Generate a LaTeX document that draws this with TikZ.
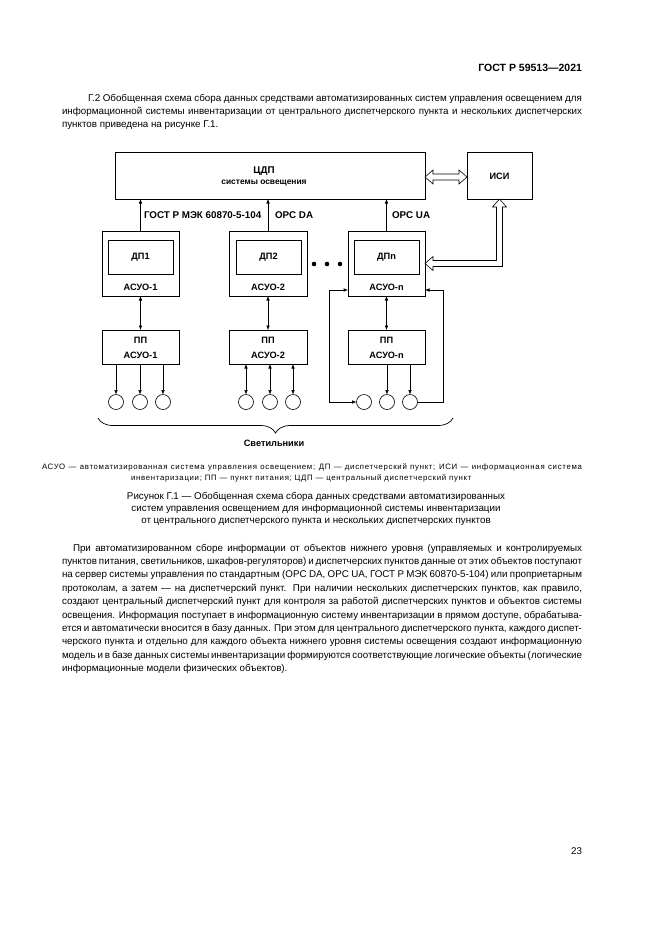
\documentclass[tikz,border=0pt]{standalone}
\usepackage{fontspec}
\setmainfont{Liberation Sans}
\usetikzlibrary{arrows.meta,calc,decorations.pathreplacing}
\begin{document}
\begin{tikzpicture}[x=1pt,y=-1pt,
  every node/.style={inner sep=0pt, outer sep=0pt},
  box/.style n args={2}{draw, line width=0.6pt, minimum width=#1, minimum height=#2},
  dtext/.style={font=\fontsize{9.2}{10}\selectfont\bfseries},
  dproto/.style={font=\fontsize{9.8}{11}\selectfont\bfseries, anchor=west},
  dbig/.style={font=\fontsize{9.8}{11}\selectfont\bfseries},
  dsmall/.style={font=\fontsize{8.4}{9}\selectfont\bfseries},
  body/.style={font=\fontsize{9.8}{12}\selectfont, anchor=base west},
  legend/.style={font=\fontsize{7.8}{9}\selectfont\addfontfeatures{LetterSpace=9}, anchor=base west},
  capt/.style={font=\fontsize{9.8}{12}\selectfont, anchor=base},
  arr/.style={line width=0.6pt, -{Latex[length=4.5pt,width=3.6pt]}},
  biarr/.style={line width=0.6pt, {Latex[length=4.5pt,width=3.6pt]}-{Latex[length=4.5pt,width=3.6pt]}},
  hollow/.style={draw, line width=0.6pt, fill=white, line join=miter},
  lamp/.style={circle, draw, line width=0.6pt, minimum size=15pt},
  dotn/.style={circle, fill=black, minimum size=4.6pt}
]
\useasboundingbox (0,0) rectangle (661,935);
\fill[white] (0,0) rectangle (661,935);

% header
\node[font=\fontsize{10.5}{12}\selectfont\bfseries, anchor=base east] (hdr) at (582,71.8) {ГОСТ Р 59513—2021};

% intro paragraph
\node[body] (i1) at (88,101.5) {\makebox[494pt][s]{Г.2 Обобщенная схема сбора данных средствами автоматизированных систем управления освещением для}};
\node[body] (i2) at (62,114.6) {\makebox[520pt][s]{информационной системы инвентаризации от центрального диспетчерского пункта и нескольких диспетчерских}};
\node[body] (i3) at (62,127.7) {пунктов приведена на рисунке Г.1.};

% boxes
\node[box={310}{47}] (cdp) at (270,175.5) {};
\node[dbig] (cdpt) at (264,171.5) {ЦДП};
\node[dsmall] (cdps) at (264,183.5) {системы освещения};
\node[box={65}{47}] (isi) at (499.5,175.5) {};
\node[dtext] (isit) at (499.5,176) {ИСИ};

\node[box={77}{65}] (dp1) at (140.5,263.5) {};
\node[box={65}{34}] (dp1i) at (140.5,257) {};
\node[dtext] (dp1t) at (140.5,257.5) {ДП1};
\node[dtext] (dp1a) at (140.5,287) {АСУО-1};

\node[box={78}{65}] (dp2) at (268,263.5) {};
\node[box={65}{34}] (dp2i) at (268.5,257) {};
\node[dtext] (dp2t) at (268.5,257.5) {ДП2};
\node[dtext] (dp2a) at (268,287) {АСУО-2};

\node[box={77}{65}] (dpn) at (386.5,263.5) {};
\node[box={65}{34}] (dpni) at (386.5,257) {};
\node[dtext] (dpnt) at (386.5,257.5) {ДПn};
\node[dtext] (dpna) at (386.5,287) {АСУО-n};

\node[dotn] (d1) at (314,264) {};
\node[dotn] (d2) at (327,264) {};
\node[dotn] (d3) at (340,264) {};

\node[box={77}{34}] (pp1) at (140.5,347) {};
\node[dtext] (pp1t) at (140.5,340.5) {ПП};
\node[dtext] (pp1a) at (140.5,355) {АСУО-1};
\node[box={78}{34}] (pp2) at (268,347) {};
\node[dtext] (pp2t) at (268,340.5) {ПП};
\node[dtext] (pp2a) at (268,355) {АСУО-2};
\node[box={77}{34}] (ppn) at (386.5,347) {};
\node[dtext] (ppnt) at (386.5,340.5) {ПП};
\node[dtext] (ppna) at (386.5,355) {АСУО-n};

% lamps
\node[lamp] (c11) at (116,402) {};
\node[lamp] (c12) at (140,402) {};
\node[lamp] (c13) at (163,402) {};
\node[lamp] (c21) at (246,402) {};
\node[lamp] (c22) at (270,402) {};
\node[lamp] (c23) at (293,402) {};
\node[lamp] (cn1) at (364,402) {};
\node[lamp] (cn2) at (387,402) {};
\node[lamp] (cn3) at (410,402) {};

% protocol labels
\node[dproto] (l1) at (144,215) {ГОСТ Р МЭК 60870-5-104};
\node[dproto] (l2) at (275,215) {OPC DA};
\node[dproto] (l3) at (392,215) {OPC UA};

% connectors up
\draw[arr] (dp1.north) -- (dp1.north |- cdp.south);
\draw[arr] (dp2.north) -- (dp2.north |- cdp.south);
\draw[arr] (dpn.north) -- (dpn.north |- cdp.south);

% dp <-> pp
\draw[biarr] (dp1.south) -- (pp1.north);
\draw[biarr] (dp2.south) -- (pp2.north);
\draw[biarr] (dpn.south) -- (ppn.north);

% pp -> lamps
\draw[arr] (c11 |- pp1.south) -- (c11.north);
\draw[arr] (c12 |- pp1.south) -- (c12.north);
\draw[arr] (c13 |- pp1.south) -- (c13.north);
\draw[biarr] (c21 |- pp2.south) -- (c21.north);
\draw[biarr] (c22 |- pp2.south) -- (c22.north);
\draw[biarr] (c23 |- pp2.south) -- (c23.north);
\draw[arr] (cn2 |- ppn.south) -- (cn2.north);
\draw[arr] (cn3 |- ppn.south) -- (cn3.north);

% feedback loops
\coordinate (fLt) at (329,290);
\coordinate (fLb) at (329,402);
\coordinate (fRt) at (443,290);
\coordinate (fRb) at (443,402);
\draw[biarr] (dpn.west |- fLt) -- (fLt) -- (fLb) -- (cn1.west);
\draw[arr] (cn3.east) -- (fRb) -- (fRt) -- (dpn.east |- fRt);

% hollow arrows
\coordinate (hl) at ($(cdp.east)+(0,1.5)$);
\coordinate (hr) at ($(isi.west)+(0,1.5)$);
\path[hollow] (hl) -- ++(8,-7) -- ++(0,4) -- ($(hr)+(-8,-3)$) -- ++(0,-4) -- (hr)
  -- ++(-8,7) -- ++(0,-4) -- ($(hl)+(8,3)$) -- ++(0,4) -- cycle;
\coordinate (vt) at (isi.south);
\coordinate (lt) at (dpn.east);
\coordinate (corner) at (vt |- lt);
\path[hollow] (vt) -- ++(7,8) -- ++(-4,0) -- ($(corner)+(3,3)$) -- ($(lt)+(8,3)$) -- ++(0,4)
  -- (lt) -- ++(8,-7) -- ++(0,4) -- ($(corner)+(-3,-3)$) -- ($(vt)+(-3,8)$) -- ++(-4,0) -- cycle;

% brace
\coordinate (bl) at (98,418);
\coordinate (br) at (453,418);
\draw[line width=0.7pt, decorate, decoration={brace, mirror, amplitude=15pt}] (bl) -- (br);
\node[dtext] (sv) at (274,443) {Светильники};

% legend
\node[legend] (lg1) at (42,469.5) {\makebox[540pt][s]{АСУО — автоматизированная система управления освещением; ДП — диспетчерский пункт; ИСИ — информационная система}};
\node[legend] (lg2) at (131,480.5) {инвентаризации; ПП — пункт питания; ЦДП — центральный диспетчерский пункт};

% caption
\node[capt] (cp1) at (316,499.5) {Рисунок Г.1 — Обобщенная схема сбора данных средствами автоматизированных};
\node[capt] (cp2) at (316,511.5) {систем управления освещением для информационной системы инвентаризации};
\node[capt] (cp3) at (316,523.5) {от центрального диспетчерского пункта и нескольких диспетчерских пунктов};

% body
\node[body] (b1) at (73,551) {\makebox[509pt][s]{При автоматизированном сборе информации от объектов нижнего уровня (управляемых и контролируемых}};
\node[body] (b2) at (62,564.4) {\makebox[520pt][s]{пунктов питания, светильников, шкафов-регуляторов) и диспетчерских пунктов данные от этих объектов поступают}};
\node[body] (b3) at (62,577.8) {\makebox[520pt][s]{на сервер системы управления по стандартным (OPC DA, OPC UA, ГОСТ Р МЭК 60870-5-104) или проприетарным}};
\node[body] (b4) at (62,591.2) {\makebox[520pt][s]{протоколам, а затем — на диспетчерский пункт. При наличии нескольких диспетчерских пунктов, как правило,}};
\node[body] (b5) at (62,604.6) {\makebox[520pt][s]{создают центральный диспетчерский пункт для контроля за работой диспетчерских пунктов и объектов системы}};
\node[body] (b6) at (62,618.0) {\makebox[520pt][s]{освещения. Информация поступает в информационную систему инвентаризации в прямом доступе, обрабатыва-}};
\node[body] (b7) at (62,631.4) {\makebox[520pt][s]{ется и автоматически вносится в базу данных. При этом для центрального диспетчерского пункта, каждого диспет-}};
\node[body] (b8) at (62,644.8) {\makebox[520pt][s]{черского пункта и отдельно для каждого объекта нижнего уровня системы освещения создают информационную}};
\node[body] (b9) at (62,658.2) {\makebox[520pt][s]{модель и в базе данных системы инвентаризации формируются соответствующие логические объекты (логические}};
\node[body] (b10) at (62,671.6) {информационные модели физических объектов).};

% page number
\node[font=\fontsize{9.8}{12}\selectfont, anchor=base east] (pg) at (582,854.5) {23};
\end{tikzpicture}
\end{document}
